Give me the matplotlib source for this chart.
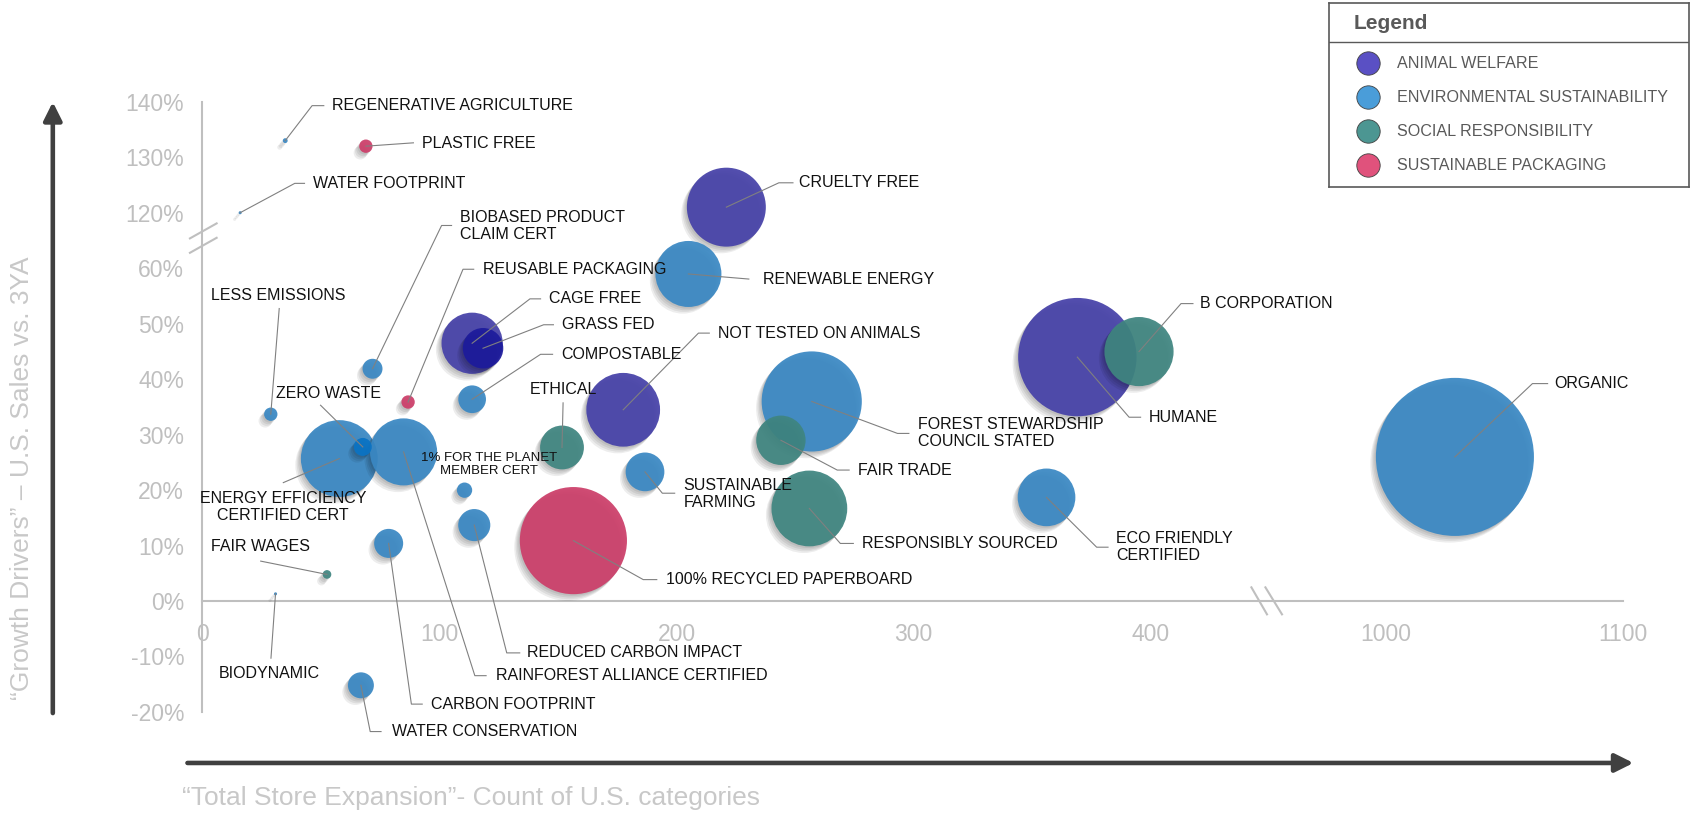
import numpy as np
import matplotlib
matplotlib.use("Agg")
import matplotlib.pyplot as plt
import matplotlib.transforms as mtransforms
from matplotlib import patheffects as pe
from matplotlib.lines import Line2D

plt.rcParams['font.family'] = ['Liberation Sans', 'DejaVu Sans']

# ---- data ----
names = ["REGENERATIVE AGRICULTURE", "PLASTIC FREE", "WATER FOOTPRINT", "CRUELTY FREE",
         "RENEWABLE ENERGY", "B CORPORATION", "HUMANE", "ORGANIC",
         "FOREST STEWARDSHIP\nCOUNCIL STATED", "FAIR TRADE", "RESPONSIBLY SOURCED",
         "ECO FRIENDLY\nCERTIFIED", "NOT TESTED ON ANIMALS", "ETHICAL", "SUSTAINABLE\nFARMING",
         "100% RECYCLED PAPERBOARD", "CAGE FREE", "GRASS FED", "COMPOSTABLE",
         "BIOBASED PRODUCT\nCLAIM CERT", "REUSABLE PACKAGING", "LESS EMISSIONS", "ZERO WASTE",
         "ENERGY EFFICIENCY\nCERTIFIED CERT", "1% FOR THE PLANET\nMEMBER CERT",
         "RAINFOREST ALLIANCE CERTIFIED", "REDUCED CARBON IMPACT", "CARBON FOOTPRINT",
         "FAIR WAGES", "BIODYNAMIC", "WATER CONSERVATION"]
groups = ["ENV", "PACK", "ENV", "ANIMAL", "ENV", "SOCIAL", "ANIMAL", "ENV", "ENV", "SOCIAL",
          "SOCIAL", "ENV", "ANIMAL", "SOCIAL", "ENV", "PACK", "ANIMAL", "ANIMAL", "ENV", "ENV",
          "PACK", "ENV", "ENV", "ENV", "ENV", "ENV", "ENV", "ENV", "SOCIAL", "ENV", "ENV"]
category_count = [35, 69, 16, 221, 205, 395, 369, 1029, 257, 244, 256, 356, 177.5, 151.7, 186.7,
                  156.5, 113.8, 118.4, 113.8, 71.8, 86.8, 28.9, 67.7, 57.8, 110.6, 84.9, 114.7,
                  78.6, 52.6, 30.9, 66.9]
sales_growth = [133, 132, 120, 121, 59, 45, 44, 26, 36, 29, 16.7, 18.7, 34.5, 27.7, 23.3, 10.9,
                46.5, 45.6, 36.4, 41.9, 35.9, 33.7, 27.8, 25.7, 20.0, 26.9, 13.7, 10.4, 4.8, 1.3,
                -15.2]
bubble_value = [0.05, 0.38, 0.02, 13.3, 9.3, 10.2, 29.9, 53.3, 21.4, 5.2, 12.25, 7.1, 11.6, 4.1,
                3.2, 24.5, 8.0, 3.5, 1.64, 0.85, 0.38, 0.38, 0.69, 12.6, 0.5, 9.6, 2.2, 1.8,
                0.16, 0.02, 1.44]

group_labels = {"ANIMAL": "ANIMAL WELFARE", "ENV": "ENVIRONMENTAL SUSTAINABILITY",
                "SOCIAL": "SOCIAL RESPONSIBILITY", "PACK": "SUSTAINABLE PACKAGING"}
x_ticks = [0, 100, 200, 300, 400, 1000, 1100]
y_ticks = [-20, -10, 0, 10, 20, 30, 40, 50, 60, 120, 130, 140]

# ---- styles ----
bubble_colors = {"ANIMAL": "#4641a8", "ENV": "#3a88c3", "SOCIAL": "#3f8580", "PACK": "#cc3e69"}
legend_colors = {"ANIMAL": "#5a50c4", "ENV": "#4a9dd9", "SOCIAL": "#4c9692", "PACK": "#e0527c"}
color_override = {"GRASS FED": "#1d1b9c", "ZERO WASTE": "#0a73c4"}
TICK_GRAY = "#bfbfbf"
LABEL_GRAY = "#c8c8c8"
K = 1.083 * 0.72  # reference px -> points

# label placement: text offset, alignment, leader vertices (reference px, y up)
layout = [
    (43, 32.3, 'left', [(0, 0), (24.8, 32.3), (35.6, 32.3)]),
    (51.7, 2.5, 'left', [(0, 0), (43.9, 3.1)]),
    (67.7, 27.1, 'left', [(0, 0), (50.4, 27.1), (59.4, 27.1)]),
    (67.5, 22.5, 'left', [(0, 0), (48.5, 22.5), (61.5, 22.5)]),
    (68.8, -4.7, 'left', [(0, 0), (55.8, -4.7)]),
    (56.5, 44.3, 'left', [(0, 0), (38.8, 44.3), (49.8, 44.3)]),
    (66.1, -55.5, 'left', [(0, 0), (47.8, -55.5), (58.4, -55.5)]),
    (91.6, 67.7, 'left', [(0, 0), (71.6, 67.7), (85.6, 67.7)]),
    (98.3, -29.5, 'left', [(0, 0), (79.2, -29.5), (89.7, -29.5)]),
    (71.5, -27.5, 'left', [(0, 0), (52, -27.5), (63, -27.5)]),
    (48.8, -32.3, 'left', [(0, 0), (28.6, -32.3), (40.6, -32.3)]),
    (64.6, -46, 'left', [(0, 0), (46.3, -46), (56.8, -46)]),
    (87.5, 70.8, 'left', [(0, 0), (69.5, 70.8), (79.5, 70.8)]),
    (1, 54, 'center', [(0, 0), (1, 41.2)]),
    (35.4, -20.3, 'left', [(0, 0), (16, -19.7), (27.4, -19.7)]),
    (85.2, -36, 'left', [(0, 0), (64.5, -36), (77, -36)]),
    (71, 41, 'left', [(0, 0), (53.4, 41), (63.2, 41)]),
    (73, 21.7, 'left', [(0, 0), (56, 21.7), (65, 21.7)]),
    (82, 41.5, 'left', [(0, 0), (63.2, 41.5), (74.3, 41.5)]),
    (80.8, 132.2, 'left', [(0, 0), (63.8, 132.3), (73, 132.3)]),
    (69.4, 122.6, 'left', [(0, 0), (50.7, 122.6), (60.6, 122.6)]),
    (6.8, 109.9, 'center', [(0, 0), (7.8, 97.6)]),
    (-31.8, 49.3, 'center', [(0, 0), (-39, 38.5)]),
    (-52, -45, 'center', [(0, 0), (-51.7, -22.2)]),
    (22.8, 23.6, 'center', None),
    (85.2, -206.6, 'left', [(0, 0), (65.8, -206.6), (76.2, -206.6)]),
    (49, -118, 'left', [(0, 0), (30, -118), (42, -118)]),
    (38.7, -148.4, 'left', [(0, 0), (21, -148.4), (31, -148.4)]),
    (-61.8, 26.1, 'center', [(0, 0), (-61.2, 12.3)]),
    (-5.4, -73.9, 'center', [(0, 0), (-4.2, -59.4)]),
    (28.3, -42.7, 'left', [(0, 0), (8.6, -42.7), (18.6, -42.7)]),
]

# broken axes as piecewise scales
xb = [-1e4, 448, 949, 1e5]
xd = [-1e4, 448, 448.2, 448.2 + (1e5 - 949)]
yb = [-1e4, 65, 115, 1e5]
yd = [-1e4, 65, 65.05, 65.05 + (1e5 - 115)]


def x_fwd(v): return np.interp(v, xb, xd)
def x_inv(v): return np.interp(v, xd, xb)
def y_fwd(v): return np.interp(v, yb, yd)
def y_inv(v): return np.interp(v, yd, yb)


fig = plt.figure(figsize=(16.98, 8.14), dpi=100)
ax = fig.add_axes([0.1191, 0.1254, 0.8369, 0.7495])
ax.set_xscale('function', functions=(x_fwd, x_inv))
ax.set_yscale('function', functions=(y_fwd, y_inv))
ax.set_xlim(0, 1100)
ax.set_ylim(-20, 140)

for side in ['top', 'right']:
    ax.spines[side].set_visible(False)
for side in ['left', 'bottom']:
    ax.spines[side].set_color(TICK_GRAY)
    ax.spines[side].set_linewidth(1.5)
ax.spines['bottom'].set_position(('data', 0))
ax.set_xticks(x_ticks)
ax.set_xticklabels([str(t) for t in x_ticks])
ax.set_yticks(y_ticks)
ax.set_yticklabels([f"{t}%" for t in y_ticks])
ax.tick_params(axis='both', length=0, labelsize=16.5, labelcolor=TICK_GRAY)
ax.tick_params(axis='x', pad=16)
ax.tick_params(axis='y', pad=13)

# bubbles, biggest first so small ones sit on top
shadow = [pe.SimplePatchShadow(offset=(-o, -1.2 * o), shadow_rgbFace='black', alpha=0.07)
          for o in (1, 2, 3, 4)] + [pe.Normal()]
order = np.argsort(bubble_value)[::-1]
for z, i in enumerate(order):
    col = color_override.get(names[i], bubble_colors[groups[i]])
    ax.scatter(category_count[i], sales_growth[i], s=bubble_value[i] * 243, color=col,
               alpha=0.93, linewidths=0, zorder=3 + z * 0.01, path_effects=shadow,
               clip_on=False)

# labels and leader lines
pt_to_disp = mtransforms.Affine2D().scale(K * fig.dpi / 72)
for i, (dx, dy, ha, leader) in enumerate(layout):
    x, y = category_count[i], sales_growth[i]
    if leader is not None:
        tr = pt_to_disp + mtransforms.ScaledTranslation(x, y, ax.transData)
        lx, ly = zip(*leader)
        ax.add_line(Line2D(lx, ly, transform=tr, color='#808080', lw=0.8, zorder=6,
                           clip_on=False))
    fs = 9.5 if names[i].startswith("1%") else 11.5
    ax.annotate(names[i], xy=(x, y), xytext=(dx * K, dy * K), textcoords='offset points',
                ha=ha, va='center', fontsize=fs, color='#111111', linespacing=1.17,
                multialignment='center' if ha == 'center' else 'left', zorder=7,
                annotation_clip=False)

# axis break marks
def break_mark(xd_, yd_, segs, gap):
    tr = mtransforms.Affine2D().scale(fig.dpi / 72 * 0.72) + \
        mtransforms.ScaledTranslation(xd_, yd_, ax.transData)
    gx, gy = zip(*gap)
    ax.add_line(Line2D(gx, gy, transform=tr, color='white', lw=4, zorder=2.5, clip_on=False))
    for s in segs:
        sx, sy = zip(*s)
        ax.add_line(Line2D(sx, sy, transform=tr, color=TICK_GRAY, lw=1.5, zorder=2.6,
                           clip_on=False))


break_mark(0, 65, [[(-12.3, 2.3), (14.4, 17.3)], [(-12.3, -12.1), (14.4, 2.9)]],
           [(0, -4), (0, 8)])
break_mark(448, 0, [[(-13.3, 13.7), (2.3, -13.3)], [(0.7, 13.7), (17.3, -13.3)]],
           [(-4.5, 0), (7.5, 0)])

# dark arrows and axis titles
arrow = dict(arrowstyle='-|>,head_length=1.1,head_width=0.55', color='#404040', lw=3.3,
             shrinkA=0, shrinkB=0)
ax.annotate('', xy=(0.0311, 0.8747), xytext=(0.0311, 0.124), xycoords='figure fraction',
            textcoords='figure fraction', arrowprops=arrow, annotation_clip=False)
ax.annotate('', xy=(0.962, 0.0627), xytext=(0.1104, 0.0627), xycoords='figure fraction',
            textcoords='figure fraction', arrowprops=arrow, annotation_clip=False)
fig.text(0.107, 0.0197, "\u201cTotal Store Expansion\u201d- Count of U.S. categories",
         fontsize=19, color=LABEL_GRAY, ha='left', va='center')
fig.text(0.0128, 0.14, "\u201cGrowth Drivers\u201d \u2013 U.S. Sales vs. 3YA", fontsize=19,
         color=LABEL_GRAY, rotation=90, rotation_mode='anchor', ha='left', va='center')

# legend box
lax = fig.add_axes([0.7829, 0.7706, 0.2120, 0.2261])
lax.set_xlim(0, 360)
lax.set_ylim(184, 0)
lax.set_xticks([])
lax.set_yticks([])
for sp in lax.spines.values():
    sp.set_color('#595959')
    sp.set_linewidth(1.2)
lax.text(24, 20.6, 'Legend', fontsize=15, fontweight='bold', color='#595959', va='center')
lax.axhline(39, color='#595959', lw=1)
for k, g in enumerate(["ANIMAL", "ENV", "SOCIAL", "PACK"]):
    yy = 60.6 + k * 34
    lax.scatter(38.4, yy, s=283, color=legend_colors[g], edgecolor='#404040', linewidths=0.6)
    lax.text(68, yy, group_labels[g], fontsize=11.6, color='#595959', va='center')

fig.savefig("out.png", dpi=100)
